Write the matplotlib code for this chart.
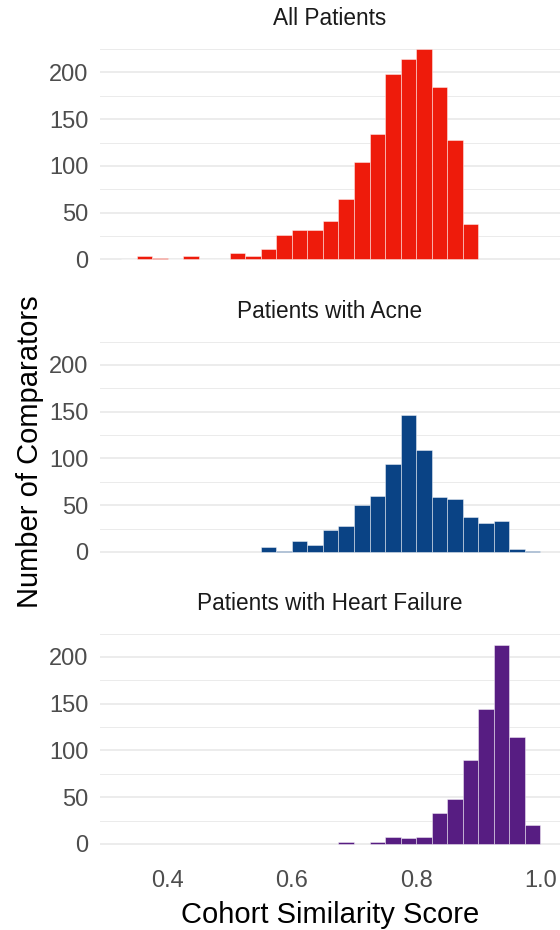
import matplotlib.pyplot as plt
import numpy as np
from matplotlib.ticker import MultipleLocator

plt.rcParams['font.family'] = ['Liberation Sans', 'DejaVu Sans']

# histogram bins (left edges), binwidth 0.025
bin_left = [0.325, 0.350, 0.375, 0.400, 0.425, 0.450, 0.475, 0.500, 0.525,
            0.550, 0.575, 0.600, 0.625, 0.650, 0.675, 0.700, 0.725, 0.750,
            0.775, 0.800, 0.825, 0.850, 0.875, 0.900, 0.925, 0.950, 0.975]
bin_width = 0.025

all_counts = [1, 4, 2, 1, 4, 1, 1, 7, 4, 11, 26, 31, 32, 41, 65, 104, 134,
              198, 214, 225, 184, 128, 38, 0, 0, 0, 0]
acne_counts = [0, 0, 0, 0, 0, 0, 0, 0, 0, 5, 1, 12, 7, 23, 28, 50, 60, 94,
               146, 109, 59, 57, 37, 31, 33, 3, 1]
hf_counts = [0, 0, 0, 0, 0, 0, 0, 0, 0, 0, 0, 0, 0, 0, 2, 0, 2, 7, 6, 7, 33,
             48, 90, 144, 213, 114, 20]

titles = ['All Patients', 'Patients with Acne', 'Patients with Heart Failure']
colors = ['#EE1B0B', '#0A4385', '#571D82']
counts = [all_counts, acne_counts, hf_counts]

W, H = 560, 930
fig = plt.figure(figsize=(W / 100, H / 100), dpi=100)

# panel tops in pixels
tops = [38.5, 331, 623]
panel_h = 231.5
left = 100

x = np.array(bin_left)
for i in range(3):
    ax = fig.add_axes([left / W, 1 - (tops[i] + panel_h) / H,
                       (W - left) / W, panel_h / H])
    c = np.array(counts[i])
    m = c > 0
    ax.bar(x[m], c[m], width=bin_width, align='edge', color=colors[i],
           edgecolor=(1, 1, 1, 0.7), linewidth=0.45, zorder=3)
    ax.set_xlim(0.2912, 1.0316)
    ax.set_ylim(-11.25, 236.25)
    ax.yaxis.set_major_locator(MultipleLocator(50))
    ax.yaxis.set_minor_locator(MultipleLocator(25))
    ax.set_xticks([0.4, 0.6, 0.8, 1.0])
    ax.grid(axis='y', which='major', color='#EBEBEB', linewidth=1.3, zorder=0)
    ax.grid(axis='y', which='minor', color='#EBEBEB', linewidth=0.7, zorder=0)
    ax.set_axisbelow(True)
    for s in ax.spines.values():
        s.set_visible(False)
    ax.tick_params(axis='both', which='both', length=0, labelsize=17,
                   labelcolor='#4D4D4D')
    ax.tick_params(axis='y', pad=8.5)
    ax.tick_params(axis='x', pad=11)
    if i < 2:
        ax.set_xticklabels([])
    else:
        ax.set_xticklabels(['0.4', '0.6', '0.8', '1.0'])
    ax.set_title(titles[i], fontsize=16.3, color='#1A1A1A', pad=9.5)

fig.text(30 / W, 1 - 452 / H, 'Number of Comparators', rotation=90,
         ha='center', va='center', fontsize=21, color='black')
fig.text(330 / W, 1 - 915 / H, 'Cohort Similarity Score',
         ha='center', va='center', fontsize=21, color='black')

fig.savefig('out.png', dpi=100)
